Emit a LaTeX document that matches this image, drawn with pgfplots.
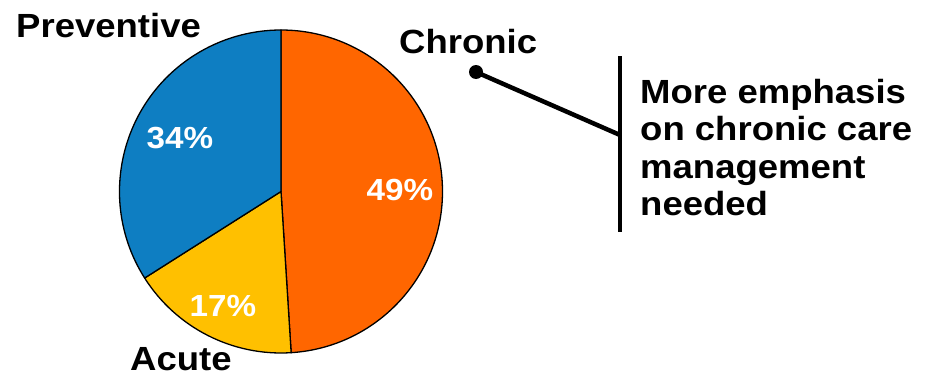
\documentclass[border=0pt]{standalone}
\usepackage{pgfplots}
\pgfplotsset{compat=1.18}
\usepackage{fontspec}
\setmainfont{Liberation Sans}[FakeStretch=1.09]
\definecolor{chron}{HTML}{FF6600}
\definecolor{acute}{HTML}{FFC000}
\definecolor{prev}{HTML}{0E7EC2}
\newcommand\startang{90}
\newcommand\slice[2]{%
  \pgfmathsetmacro\endang{\startang-3.6*#1}%
  \edef\cmd{\noexpand\filldraw[fill=#2,draw=black,line width=1.3pt,line join=round]
    (axis cs:281,184.5) -- ++(\startang:161.5pt)
    arc[start angle=\startang,end angle=\endang,radius=161.5pt] -- cycle;}%
  \cmd
  \xdef\startang{\endang}%
}
\begin{document}
\begin{tikzpicture}
\begin{axis}[x=1pt,y=1pt,xmin=0,xmax=932,ymin=0,ymax=376,
  hide axis,clip=false,scale only axis,anchor=south west,at={(0pt,0pt)}]
\slice{49}{chron}
\slice{17}{acute}
\slice{34}{prev}
\begin{scope}[every node/.style={inner sep=0pt,font=\fontsize{30.5}{34}\selectfont\bfseries,text=white,anchor=base}]
\node at (axis cs:400,176) {49\%};
\node at (axis cs:223,60) {17\%};
\node at (axis cs:180,227.7) {34\%};
\end{scope}
\begin{scope}[every node/.style={inner sep=0pt,font=\fontsize{33.5}{37}\selectfont\bfseries,anchor=base west}]
\node at (axis cs:16,339) {Preventive};
\node at (axis cs:399,323) {Chronic};
\node at (axis cs:130,6) {Acute};
\node at (axis cs:640,272.5) {More emphasis};
\node at (axis cs:640,235.5) {on chronic care};
\node at (axis cs:640,198) {management};
\node at (axis cs:640,161) {needed};
\end{scope}
\draw[line width=4.5pt] (axis cs:476,304) -- (axis cs:620,241);
\fill (axis cs:476,304) circle[radius=7pt];
\draw[line width=4.5pt] (axis cs:620,320) -- (axis cs:620,144);
\end{axis}
\pgfresetboundingbox
\path (0,0) rectangle (932pt,376pt);
\end{tikzpicture}
\end{document}
